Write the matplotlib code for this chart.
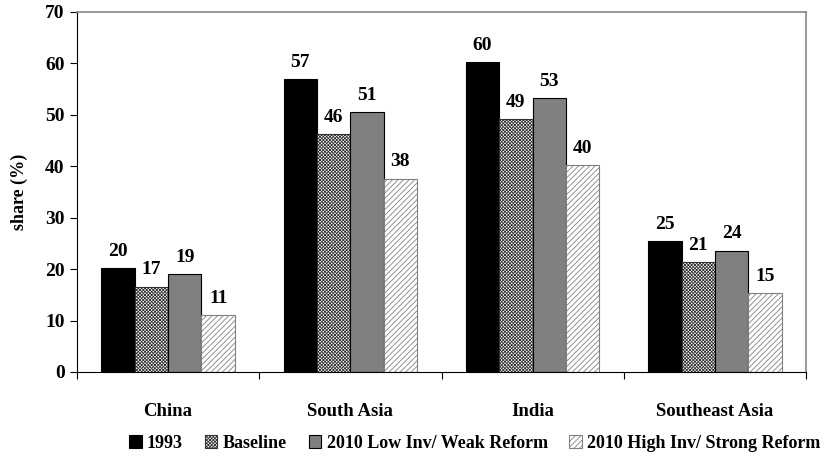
import matplotlib.pyplot as plt
import numpy as np

plt.rcParams['font.family'] = ['Liberation Serif', 'DejaVu Serif']
plt.rcParams['font.weight'] = 'bold'
plt.rcParams['hatch.linewidth'] = 0.6

regions = ["China", "South Asia", "India", "Southeast Asia"]
series = ["1993", "Baseline", "2010 Low Inv/ Weak Reform", "2010 High Inv/ Strong Reform"]
share_1993 = [20.2, 57.0, 60.2, 25.4]
share_base = [16.6, 46.3, 49.2, 21.3]
share_low = [19.0, 50.6, 53.2, 23.6]
share_high = [11.1, 37.6, 40.3, 15.4]

styles = [
    dict(color="black", edgecolor="black"),
    dict(color="white", edgecolor="#333333", hatch="xxxxxxxxxx"),
    dict(color="#808080", edgecolor="black"),
    dict(color="white", edgecolor="#808080", hatch="//////"),
]

fig = plt.figure(figsize=(8.39, 4.63), dpi=100)
ax = fig.add_axes([77 / 839, 1 - 372 / 463, 729 / 839, 360 / 463])

x = np.arange(len(regions))
w = 0.183
for i, (vals, st) in enumerate(zip([share_1993, share_base, share_low, share_high], styles)):
    pos = x + (i - 1.5) * w
    ax.bar(pos, vals, w, linewidth=0.8, label=series[i], **st)
    for p, v in zip(pos, vals):
        ax.text(p, v + 1.6, f"{v:.0f}", ha="center", va="bottom", fontsize=14, fontweight="bold")

ax.set_xlim(-0.5, len(regions) - 0.5)
ax.set_ylim(0, 70)
ax.set_yticks(range(0, 71, 10))
ax.set_xticks(x)
ax.set_xticklabels(regions, fontsize=13.5, fontweight="bold")
ax.tick_params(axis="x", length=0, pad=22)
ax.set_xticks(np.arange(-0.5, len(regions)), minor=True)
ax.tick_params(axis="x", which="minor", length=5, direction="out", width=0.8)
ax.tick_params(axis="y", length=5, width=0.8, labelsize=14, pad=4)
ax.set_ylabel("share (%)", fontsize=13, fontweight="bold", labelpad=12)

for side in ["top", "right"]:
    ax.spines[side].set_color("#888888")
    ax.spines[side].set_linewidth(1.2)
for side in ["left", "bottom"]:
    ax.spines[side].set_linewidth(0.8)

fig.legend(loc="center", bbox_to_anchor=(0.566, 0.043), ncol=4, frameon=False,
           fontsize=13, handlelength=0.7, handleheight=0.7, handletextpad=0.3,
           columnspacing=1.2, borderaxespad=0)

fig.savefig("out.png", dpi=100)
